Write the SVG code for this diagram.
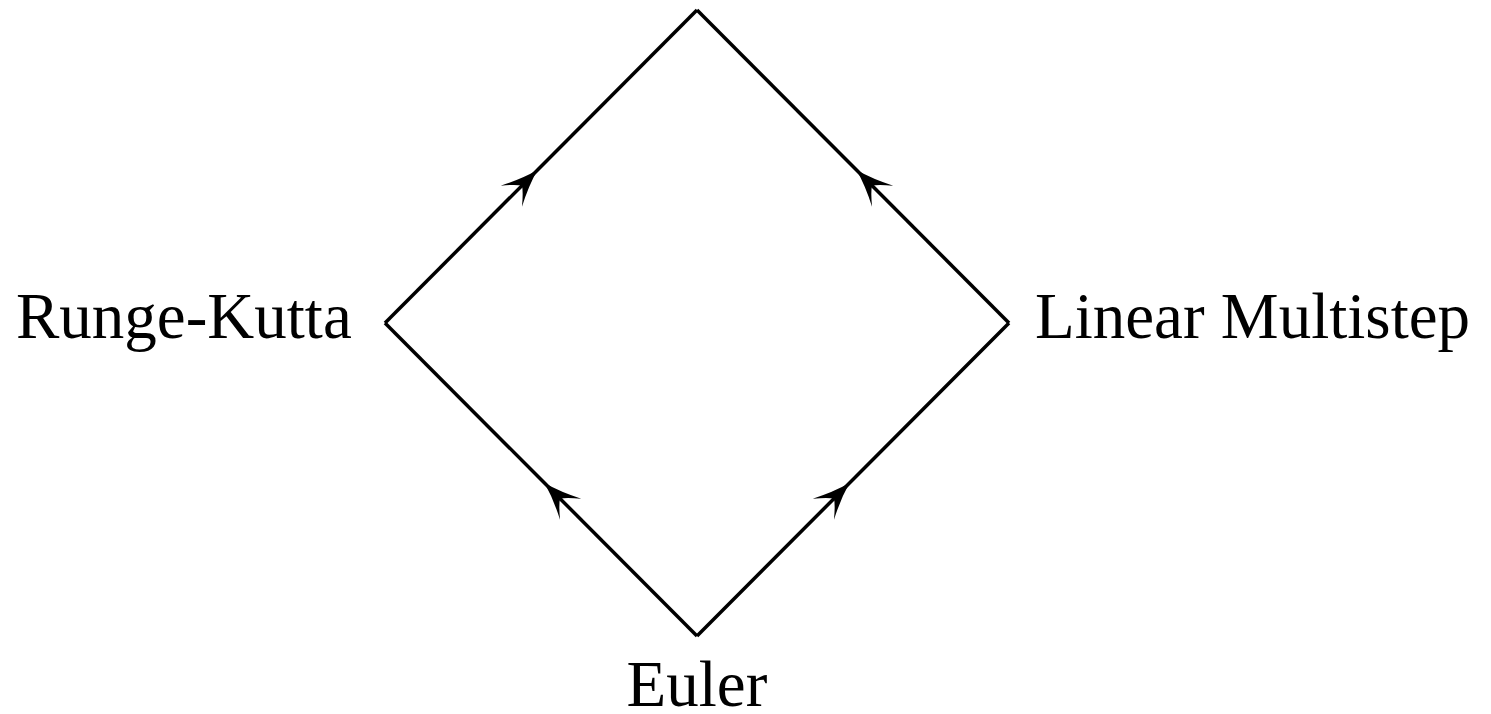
<svg xmlns="http://www.w3.org/2000/svg" width="1491" height="714" viewBox="0 0 1491 714">
<style>
.edge{fill:none;stroke:#000;stroke-width:3.5;stroke-linejoin:miter;marker-mid:url(#arr)}
.lbl{font-family:"Liberation Serif","Times New Roman",serif;font-size:65px;fill:#000}
</style>
<defs>
<marker id="arr" markerUnits="userSpaceOnUse" orient="auto" markerWidth="50" markerHeight="40" refX="5" refY="0" viewBox="-40 -20 50 40" overflow="visible">
<path d="M0,0 Q-18,-5 -37,-15 Q-25,-5 -22,0 Q-25,5 -37,15 Q-18,5 0,0 Z" fill="#000"/>
</marker>
</defs>
<rect width="1491" height="714" fill="#fff"/>
<g id="connectors">
<path class="edge" d="M385,323 L541,166.5 L697,10"/>
<path class="edge" d="M1009,323 L853,166.5 L697,10"/>
<path class="edge" d="M697,636 L541,479.5 L385,323"/>
<path class="edge" d="M697,636 L853,479.5 L1009,323"/>
</g>
<g id="runge-kutta"><text class="lbl" x="16" y="338">Runge-Kutta</text></g>
<g id="linear-multistep"><text class="lbl" x="1035" y="338">Linear Multistep</text></g>
<g id="euler"><text class="lbl" x="697" y="706" text-anchor="middle">Euler</text></g>
</svg>
